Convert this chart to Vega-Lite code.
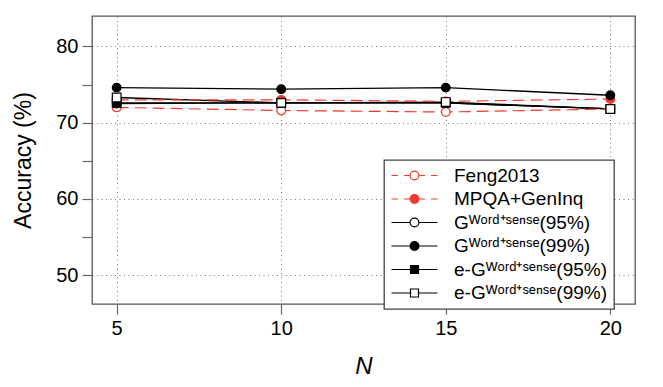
{
  "$schema": "https://vega.github.io/schema/vega-lite/v6.json",
  "width": 543,
  "height": 288,
  "autosize": {"type": "none"},
  "padding": {"left": 92, "top": 16, "right": 28, "bottom": 83},
  "background": "white",
  "config": {
    "view": {"stroke": "#555", "strokeWidth": 1.3},
    "font": "Liberation Sans",
    "legend": {"strokeWidth": 1.3},
    "axis": {
      "labelFont": "Liberation Sans",
      "titleFont": "Liberation Sans",
      "labelColor": "#000",
      "titleColor": "#000",
      "tickColor": "#666",
      "tickWidth": 1.2,
      "domain": false,
      "gridColor": "#777",
      "gridDash": [1, 3.5],
      "gridWidth": 1
    }
  },
  "resolve": {"scale": {"color": "independent", "shape": "independent", "size": "independent"}},
  "data": {
    "values": [
      {"series": "Feng2013", "N": 5, "acc": 72.0},
      {"series": "Feng2013", "N": 10, "acc": 71.6},
      {"series": "Feng2013", "N": 15, "acc": 71.4},
      {"series": "Feng2013", "N": 20, "acc": 71.8},
      {"series": "MPQA+GenInq", "N": 5, "acc": 73.0},
      {"series": "MPQA+GenInq", "N": 10, "acc": 73.0},
      {"series": "MPQA+GenInq", "N": 15, "acc": 72.8},
      {"series": "MPQA+GenInq", "N": 20, "acc": 73.1},
      {"series": "G95", "N": 5, "acc": 72.5},
      {"series": "G95", "N": 10, "acc": 72.6},
      {"series": "G95", "N": 15, "acc": 72.6},
      {"series": "G95", "N": 20, "acc": 71.8},
      {"series": "G99", "N": 5, "acc": 74.6},
      {"series": "G99", "N": 10, "acc": 74.4},
      {"series": "G99", "N": 15, "acc": 74.6},
      {"series": "G99", "N": 20, "acc": 73.6},
      {"series": "eG95", "N": 5, "acc": 72.6},
      {"series": "eG95", "N": 10, "acc": 72.6},
      {"series": "eG95", "N": 15, "acc": 72.6},
      {"series": "eG95", "N": 20, "acc": 71.8},
      {"series": "eG99", "N": 5, "acc": 73.3},
      {"series": "eG99", "N": 10, "acc": 72.6},
      {"series": "eG99", "N": 15, "acc": 72.7},
      {"series": "eG99", "N": 20, "acc": 71.8}
    ]
  },
  "encoding": {
    "x": {
      "field": "N",
      "type": "quantitative",
      "scale": {"domain": [4.25, 20.75], "nice": false, "zero": false},
      "axis": {
        "values": [5, 10, 15, 20],
        "title": "N",
        "titleFontStyle": "italic",
        "titleFontWeight": "normal",
        "titleFontSize": 24,
        "titlePadding": 16,
        "labelFontSize": 20,
        "labelPadding": 4,
        "tickSize": 10,
        "grid": true
      }
    },
    "y": {
      "field": "acc",
      "type": "quantitative",
      "scale": {"domain": [46.2, 84.0], "nice": false, "zero": false},
      "axis": {
        "values": [50, 55, 60, 65, 70, 75, 80],
        "labelExpr": "datum.value % 10 == 0 ? datum.label : ''",
        "title": "Accuracy (%)",
        "titleFontWeight": "normal",
        "titleFontSize": 23,
        "titlePadding": 20,
        "labelFontSize": 20,
        "labelPadding": 4,
        "tickSize": 10,
        "grid": true,
        "gridOpacity": {"condition": {"test": "datum.value % 10 != 0", "value": 0}, "value": 1}
      }
    }
  },
  "layer": [
    {
      "transform": [{"filter": "datum.series != 'Feng2013' && datum.series != 'MPQA+GenInq'"}],
      "mark": {"type": "line", "strokeWidth": 1.3, "color": "#000000"},
      "encoding": {"detail": {"field": "series"}}
    },
    {
      "transform": [{"filter": "datum.series == 'Feng2013' || datum.series == 'MPQA+GenInq'"}],
      "mark": {"type": "line", "strokeWidth": 1.2, "strokeDash": [12, 6], "color": "#EE3A2C"},
      "encoding": {"detail": {"field": "series"}}
    },
    {
      "mark": {"type": "point", "filled": false, "strokeWidth": 1.2, "opacity": 1},
      "encoding": {
        "detail": {"field": "series"},
        "shape": {
          "field": "series",
          "type": "nominal",
          "scale": {
            "domain": ["Feng2013", "MPQA+GenInq", "G95", "G99", "eG95", "eG99"],
            "range": ["circle", "circle", "circle", "circle", "square", "square"]
          },
          "legend": null
        },
        "size": {
          "field": "series",
          "type": "nominal",
          "scale": {
            "domain": ["Feng2013", "MPQA+GenInq", "G95", "G99", "eG95", "eG99"],
            "range": [75, 75, 75, 75, 68, 68]
          },
          "legend": null
        },
        "fill": {
          "field": "series",
          "type": "nominal",
          "scale": {
            "domain": ["Feng2013", "MPQA+GenInq", "G95", "G99", "eG95", "eG99"],
            "range": ["#ffffff", "#EE3A2C", "#ffffff", "#000000", "#000000", "#ffffff"]
          },
          "legend": null
        },
        "stroke": {
          "field": "series",
          "type": "nominal",
          "scale": {
            "domain": ["Feng2013", "MPQA+GenInq", "G95", "G99", "eG95", "eG99"],
            "range": ["#EE3A2C", "#EE3A2C", "#000000", "#000000", "#000000", "#000000"]
          },
          "legend": null
        }
      }
    },
    {
      "transform": [{"filter": "false"}],
      "mark": {"type": "point", "filled": false, "strokeWidth": 1.2, "opacity": 1},
      "encoding": {
        "color": {
          "field": "series",
          "type": "nominal",
          "scale": {
            "domain": ["Feng2013", "MPQA+GenInq", "G95", "G99", "eG95", "eG99"],
            "range": ["#EE3A2C", "#EE3A2C", "#000000", "#000000", "#000000", "#000000"]
          },
          "legend": {
            "title": null,
            "orient": "none",
            "legendX": 292,
            "legendY": 144,
            "padding": 6,
            "fillColor": "white",
            "strokeColor": "#444",
            "rowPadding": 3.5,
            "labelFont": "Liberation Sans",
            "labelFontSize": 19,
            "labelColor": "#000",
            "labelLimit": 300,
            "labelOffset": 45,
            "symbolSize": 256,
            "symbolStrokeWidth": 1.2,
            "labelExpr": "datum.value == 'G95' ? 'Gᵂᵒʳᵈ⁺ˢᵉⁿˢᵉ(95%)' : datum.value == 'G99' ? 'Gᵂᵒʳᵈ⁺ˢᵉⁿˢᵉ(99%)' : datum.value == 'eG95' ? 'e-Gᵂᵒʳᵈ⁺ˢᵉⁿˢᵉ(95%)' : datum.value == 'eG99' ? 'e-Gᵂᵒʳᵈ⁺ˢᵉⁿˢᵉ(99%)' : datum.label"
          }
        },
        "shape": {
          "field": "series",
          "type": "nominal",
          "scale": {
            "domain": ["Feng2013", "MPQA+GenInq", "G95", "G99", "eG95", "eG99"],
            "range": [
              "M-1,0L-0.2,0ZM0.55,0L1.3,0ZM2.45,0L3.2,0ZM3.95,0L4.75,0ZM2.425,0A0.55,0.55 0 1,1 1.325,0A0.55,0.55 0 1,1 2.425,0Z",
              "M-1,0L-0.2,0ZM0.55,0L1.3,0ZM2.45,0L3.2,0ZM3.95,0L4.75,0ZM2.425,0A0.55,0.55 0 1,1 1.325,0A0.55,0.55 0 1,1 2.425,0ZM2.305,0A0.43,0.43 0 1,1 1.445,0A0.43,0.43 0 1,1 2.305,0ZM2.185,0A0.31,0.31 0 1,1 1.565,0A0.31,0.31 0 1,1 2.185,0ZM2.065,0A0.19,0.19 0 1,1 1.685,0A0.19,0.19 0 1,1 2.065,0ZM1.945,0A0.07,0.07 0 1,1 1.805,0A0.07,0.07 0 1,1 1.945,0Z",
              "M-1,0L1.325,0ZM2.425,0L4.75,0ZM2.425,0A0.55,0.55 0 1,1 1.325,0A0.55,0.55 0 1,1 2.425,0Z",
              "M-1,0L1.325,0ZM2.425,0L4.75,0ZM2.425,0A0.55,0.55 0 1,1 1.325,0A0.55,0.55 0 1,1 2.425,0ZM2.305,0A0.43,0.43 0 1,1 1.445,0A0.43,0.43 0 1,1 2.305,0ZM2.185,0A0.31,0.31 0 1,1 1.565,0A0.31,0.31 0 1,1 2.185,0ZM2.065,0A0.19,0.19 0 1,1 1.685,0A0.19,0.19 0 1,1 2.065,0ZM1.945,0A0.07,0.07 0 1,1 1.805,0A0.07,0.07 0 1,1 1.945,0Z",
              "M-1,0L1.375,0ZM2.375,0L4.75,0ZM1.375,-0.5L2.375,-0.5L2.375,0.5L1.375,0.5ZM1.495,-0.38L2.255,-0.38L2.255,0.38L1.495,0.38ZM1.615,-0.26L2.135,-0.26L2.135,0.26L1.615,0.26ZM1.735,-0.14L2.015,-0.14L2.015,0.14L1.735,0.14ZM1.845,-0.03L1.905,-0.03L1.905,0.03L1.845,0.03Z",
              "M-1,0L1.375,0ZM2.375,0L4.75,0ZM1.375,-0.5L2.375,-0.5L2.375,0.5L1.375,0.5Z"
            ]
          },
          "legend": {
            "title": null,
            "orient": "none",
            "legendX": 292,
            "legendY": 144,
            "padding": 6,
            "fillColor": "white",
            "strokeColor": "#444",
            "rowPadding": 3.5,
            "labelFont": "Liberation Sans",
            "labelFontSize": 19,
            "labelColor": "#000",
            "labelLimit": 300,
            "labelOffset": 45,
            "symbolSize": 256,
            "symbolStrokeWidth": 1.2,
            "labelExpr": "datum.value == 'G95' ? 'Gᵂᵒʳᵈ⁺ˢᵉⁿˢᵉ(95%)' : datum.value == 'G99' ? 'Gᵂᵒʳᵈ⁺ˢᵉⁿˢᵉ(99%)' : datum.value == 'eG95' ? 'e-Gᵂᵒʳᵈ⁺ˢᵉⁿˢᵉ(95%)' : datum.value == 'eG99' ? 'e-Gᵂᵒʳᵈ⁺ˢᵉⁿˢᵉ(99%)' : datum.label"
          }
        }
      }
    }
  ]
}
